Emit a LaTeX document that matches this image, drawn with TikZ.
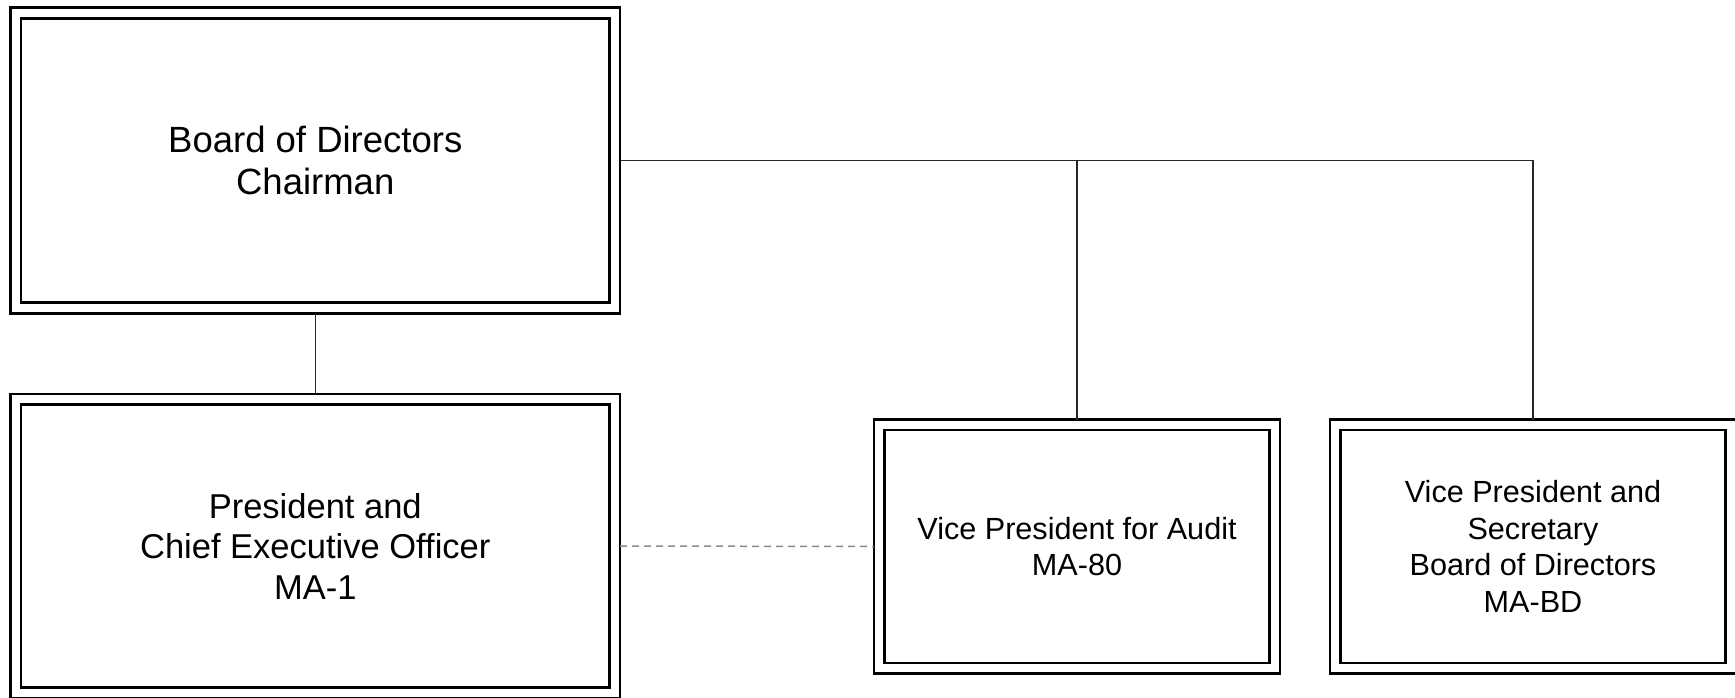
\documentclass[tikz,border=0pt]{standalone}
\usepackage{fontspec}
\setmainfont{Liberation Sans}
\begin{document}
\begin{tikzpicture}[x=1pt,y=-1pt,
  orgbox/.style={draw=black, line width=2.6pt, double=white, double distance=7.9pt,
    rectangle, inner sep=0pt, outer sep=5.25pt, align=center, text=black},
  bigbox/.style={orgbox, minimum width=599pt},
  smallbox/.style={orgbox, minimum width=395.5pt, minimum height=243.5pt, font=\fontsize{30.6}{36.5}\selectfont},
  conn/.style={draw=black!85, line width=1.3pt},
  dashconn/.style={draw=black!45, line width=1.5pt, dash pattern=on 7pt off 5pt}]
\useasboundingbox (0,0) rectangle (1735,697);
\node[bigbox, minimum height=295pt, font=\fontsize{36.5}{42.5}\selectfont] (b1) at (315.25,160.5) {Board of Directors\\Chairman};
\node[bigbox, minimum height=293.5pt, font=\fontsize{34.5}{40.5}\selectfont] (b2) at (315.25,546) {President and\\Chief Executive Officer\\MA-1};
\node[smallbox] (b3) at (1077,546.5) {Vice President for Audit\\MA-80};
\node[smallbox] (b4) at (1533,546.5) {Vice President and\\Secretary\\Board of Directors\\MA-BD};
\draw[conn] (b1.east) -| (b4.north);
\draw[conn] (b3.north) |- (b1.east);
\draw[conn] (b1.south) -- (b2.north);
\draw[dashconn] (b2.east) -- (b3.west);
\end{tikzpicture}
\end{document}
